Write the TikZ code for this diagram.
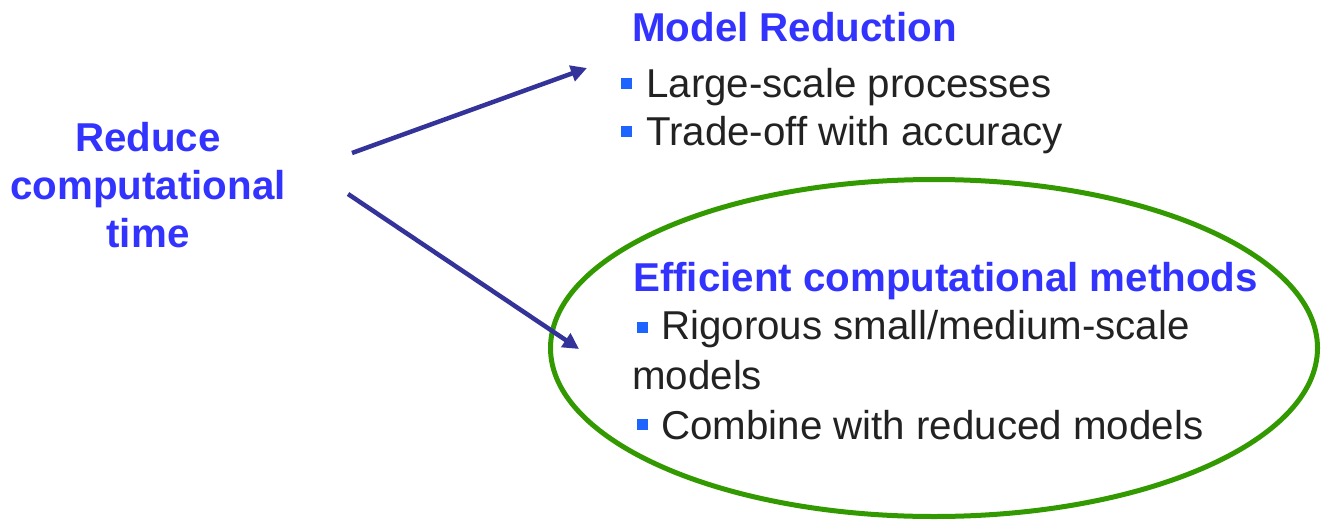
\documentclass[tikz,border=0pt]{standalone}
\usepackage{fontspec}
\setmainfont{Liberation Sans}
\usetikzlibrary{arrows.meta}
\definecolor{headblue}{RGB}{51,51,255}
\definecolor{arrowblue}{RGB}{51,51,153}
\definecolor{bulletblue}{RGB}{30,100,255}
\definecolor{ringgreen}{RGB}{51,153,0}
\definecolor{bodytext}{RGB}{34,34,34}
\begin{document}
\begin{tikzpicture}[x=1pt,y=-1pt,
  head/.style={font=\fontsize{40.3}{48}\selectfont\bfseries, text=headblue, inner sep=0pt},
  body/.style={font=\fontsize{40.3}{48}\selectfont, text=bodytext, inner sep=0pt, anchor=base west},
  bul/.style={fill=bulletblue, minimum size=11pt, inner sep=0pt, draw=none},
  conn/.style={draw=arrowblue, line width=4.5pt, -{Triangle[length=16pt,width=16pt]}},
  ring/.style={draw=ringgreen, line width=5pt}]
\useasboundingbox (0,0) rectangle (1321,522);
% ellipse
\draw[ring] (934,348) ellipse [x radius=383.5, y radius=168.5];
% left text
\node[head, align=center, anchor=base] (reduce) at (148,247) {Reduce\\computational\\time};
% model reduction
\node[head, anchor=base west] (mr) at (632,41) {Model Reduction};
\node[bul] (b1) at (626,83.5) {};
\node[body] (t1) at (646,97) {Large-scale processes};
\node[bul] (b2) at (626,131) {};
\node[body] (t2) at (646,145) {Trade-off with accuracy};
% efficient
\node[head, anchor=base west] (ecm) at (633,291) {Efficient computational methods};
\node[bul] (b3) at (642,327) {};
\node[body] (t3) at (661,339) {Rigorous small/medium-scale};
\node[body] (t3b) at (632,389) {models};
\node[bul] (b4) at (642,424) {};
\node[body] (t4) at (661,439) {Combine with reduced models};
% arrows
\coordinate (a1s) at (352,153);
\coordinate (a1e) at (587,68);
\coordinate (a2s) at (348,194);
\coordinate (a2e) at (579,349);
\draw[conn] (a1s) -- (a1e);
\draw[conn] (a2s) -- (a2e);
\end{tikzpicture}
\end{document}
